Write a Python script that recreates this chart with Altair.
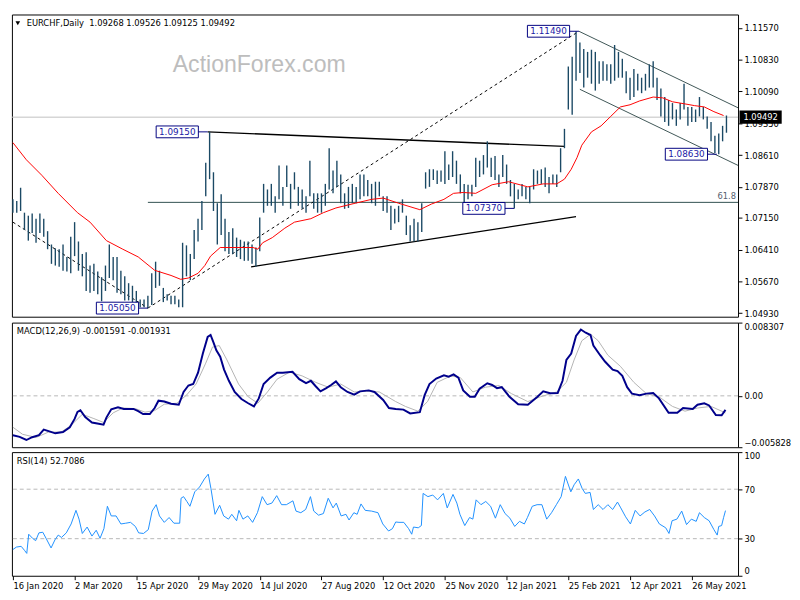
import json
import altair as alt
import pandas as pd

FONT = "DejaVu Sans"
W = 740
H_MAIN, H_MACD, H_RSI = 308, 127, 126
T_MIN, T_MAX = -0.5, 376

# ---------------- data ----------------
date_labels = ["16 Jan 2020", "2 Mar 2020", "15 Apr 2020", "29 May 2020", "14 Jul 2020",
               "27 Aug 2020", "12 Oct 2020", "25 Nov 2020", "12 Jan 2021", "25 Feb 2021",
               "12 Apr 2021", "26 May 2021"]
label_every = 32
label_t = [i * label_every for i in range(len(date_labels))]

price_ticks = [1.04930, 1.05670, 1.06410, 1.07150, 1.07870, 1.08610, 1.09350, 1.10090, 1.10830, 1.11570]
price_domain = [1.0485, 1.1188]
last_price = 1.09492
ohlc_title = "EURCHF,Daily\u00a0 1.09268 1.09526 1.09125 1.09492"
watermark = "ActionForex.com"
fib_level = 1.0751
fib_start_t = 70
fib_text = "61.8"

highs = [1.0758, 1.0754, 1.0785, 1.0727, 1.0720, 1.0725, 1.0713, 1.0725, 1.0713, 1.0684,
         1.0653, 1.0644, 1.0642, 1.0653, 1.0624, 1.0671, 1.0705, 1.0660, 1.0631, 1.0635,
         1.0604, 1.0608, 1.0590, 1.0577, 1.0604, 1.0653, 1.0624, 1.0624, 1.0592, 1.0579,
         1.0563, 1.0557, 1.0545, 1.0525, 1.0525, 1.0534, 1.0586, 1.0613, 1.0592, 1.0552,
         1.0537, 1.0534, 1.0534, 1.0525, 1.0657, 1.0651, 1.0631, 1.0687, 1.0713, 1.0754,
         1.0843, 1.0915, 1.0821, 1.0749, 1.0770, 1.0713, 1.0682, 1.0691, 1.0669, 1.0664,
         1.0660, 1.0660, 1.0653, 1.0646, 1.0716, 1.0794, 1.0781, 1.0794, 1.0765, 1.0837,
         1.0787, 1.0837, 1.0794, 1.0821, 1.0787, 1.0781, 1.0765, 1.0848, 1.0772, 1.0772,
         1.0772, 1.0794, 1.0877, 1.0825, 1.0848, 1.0816, 1.0772, 1.0787, 1.0794, 1.0787,
         1.0816, 1.0816, 1.0803, 1.0794, 1.0799, 1.0799, 1.0765, 1.0765, 1.0743, 1.0736,
         1.0743, 1.0758, 1.0720, 1.0698, 1.0713, 1.0705, 1.0749, 1.0821, 1.0828, 1.0828,
         1.0825, 1.0825, 1.0870, 1.0839, 1.0870, 1.0848, 1.0816, 1.0794, 1.0792, 1.0792,
         1.0855, 1.0848, 1.0861, 1.0893, 1.0855, 1.0859, 1.0816, 1.0861, 1.0839, 1.0803,
         1.0794, 1.0781, 1.0794, 1.0787, 1.0787, 1.0828, 1.0825, 1.0828, 1.0832, 1.0810,
         1.0816, 1.0816, 1.0877, 1.0922, 1.1067, 1.1090, 1.1149, 1.1123, 1.1108, 1.1101,
         1.1106, 1.1101, 1.1079, 1.1079, 1.1072, 1.1072, 1.1117, 1.1101, 1.1085, 1.1056,
         1.1041, 1.1061, 1.1050, 1.1041, 1.1050, 1.1072, 1.1079, 1.1041, 1.1016, 1.0996,
         1.0989, 1.0982, 1.0967, 1.0982, 1.1027, 1.0973, 1.0973, 1.0967, 1.0996, 1.0973,
         1.0951, 1.0938, 1.0906, 1.0911, 1.0929, 1.0953]
lows = [1.0727, 1.0727, 1.0731, 1.0687, 1.0662, 1.0680, 1.0657, 1.0680, 1.0671, 1.0642,
        1.0608, 1.0604, 1.0601, 1.0592, 1.0590, 1.0586, 1.0626, 1.0592, 1.0579, 1.0545,
        1.0541, 1.0545, 1.0537, 1.0521, 1.0545, 1.0575, 1.0570, 1.0541, 1.0537, 1.0523,
        1.0523, 1.0519, 1.0512, 1.0507, 1.0507, 1.0505, 1.0512, 1.0552, 1.0557, 1.0519,
        1.0523, 1.0514, 1.0514, 1.0507, 1.0507, 1.0579, 1.0570, 1.0619, 1.0660, 1.0687,
        1.0765, 1.0805, 1.0731, 1.0653, 1.0675, 1.0637, 1.0631, 1.0631, 1.0624, 1.0619,
        1.0615, 1.0615, 1.0608, 1.0601, 1.0637, 1.0727, 1.0743, 1.0743, 1.0727, 1.0758,
        1.0743, 1.0787, 1.0736, 1.0781, 1.0743, 1.0736, 1.0727, 1.0765, 1.0736, 1.0727,
        1.0727, 1.0743, 1.0781, 1.0772, 1.0787, 1.0749, 1.0736, 1.0738, 1.0749, 1.0749,
        1.0758, 1.0765, 1.0765, 1.0749, 1.0743, 1.0765, 1.0731, 1.0727, 1.0687, 1.0702,
        1.0705, 1.0727, 1.0675, 1.0660, 1.0660, 1.0660, 1.0682, 1.0783, 1.0787, 1.0803,
        1.0794, 1.0799, 1.0794, 1.0803, 1.0810, 1.0794, 1.0772, 1.0743, 1.0758, 1.0765,
        1.0787, 1.0810, 1.0816, 1.0832, 1.0810, 1.0803, 1.0787, 1.0810, 1.0794, 1.0765,
        1.0737, 1.0758, 1.0765, 1.0758, 1.0749, 1.0781, 1.0794, 1.0794, 1.0787, 1.0772,
        1.0794, 1.0787, 1.0821, 1.0877, 1.0967, 1.0955, 1.1034, 1.1052, 1.1018, 1.1041,
        1.1027, 1.1011, 1.1027, 1.1034, 1.1034, 1.1027, 1.1034, 1.1041, 1.1041, 1.1005,
        1.0989, 1.0996, 1.1011, 1.1005, 1.1011, 1.1018, 1.1018, 1.0989, 1.0951, 1.0938,
        1.0929, 1.0944, 1.0929, 1.0944, 1.0967, 1.0929, 1.0938, 1.0938, 1.0951, 1.0944,
        1.0922, 1.0893, 1.0866, 1.0863, 1.0893, 1.0913]
bar_t = list(range(0, 2 * len(highs), 2))

ma_t = [0, 7, 15, 23.5, 33.5, 40, 48.5, 57, 65, 73.5, 82, 87, 91, 96, 99.5, 102.5, 107.5, 116, 124.5, 127,
        129.5, 134.5, 141, 146, 154.5, 161, 167.5, 177.5, 186, 192, 200, 211, 217, 223.5, 228.5, 233.5,
        240, 248.5, 257, 267, 275, 282, 286, 289.5, 292.5, 295, 300, 305, 310, 315, 320, 325, 332, 337,
        342, 348.5, 353.5, 358.5, 363.5, 368.5]
ma_v = [1.0890, 1.0850, 1.0814, 1.0772, 1.0727, 1.0705, 1.0662, 1.0642, 1.0624, 1.0593, 1.0581, 1.0572,
        1.0575, 1.0586, 1.0604, 1.0626, 1.0646, 1.0646, 1.0646, 1.0642, 1.0657, 1.0669, 1.0691, 1.0705,
        1.0713, 1.0727, 1.0738, 1.0749, 1.0758, 1.0761, 1.0749, 1.0734, 1.0747, 1.0758, 1.0772, 1.0774,
        1.0772, 1.0792, 1.0799, 1.0787, 1.0794, 1.0794, 1.0805, 1.0828, 1.0855, 1.0884, 1.0915, 1.0929,
        1.0951, 1.0973, 1.0978, 1.0987, 1.0996, 1.0994, 1.0985, 1.0980, 1.0976, 1.0973, 1.0962, 1.0953]

dash_seg = ["a", "a", "b", "b"]
dash_t = [0, 70, 70, 293.5]
dash_p = [1.0705, 1.0505, 1.0505, 1.1149]
solid_seg = ["c", "c", "d", "d"]
solid_t = [101, 286, 123.5, 292]
solid_p = [1.0915, 1.0881, 1.0601, 1.0718]
chan_seg = ["e", "e", "f", "f"]
chan_t = [293.5, 376, 294, 376]
chan_p = [1.1149, 1.0971, 1.1014, 1.0837]

ann_text = ["1.09150", "1.05050", "1.11490", "1.07370", "1.08630"]
ann_t = [101, 70, 293.5, 260, 365]
ann_p = [1.0915, 1.0505, 1.1149, 1.0737, 1.0863]

macd_title = "MACD(12,26,9) -0.001591 -0.001931"
macd_domain = [-0.005828, 0.008307]
macd_t = [0, 3.5, 7, 10, 13.5, 16, 18.5, 22, 26, 29.5, 32, 33.5, 35, 37.5, 41, 44.5, 47, 48.5, 51, 54.5,
          57.5, 62.5, 65, 67.5, 71, 73.5, 75.5, 78.5, 82, 86, 88.5, 91, 93.5, 96, 98.5, 101, 102.5, 104,
          105.5, 107.5, 109.5, 112, 115, 118.5, 122, 125, 127.5, 130, 133.5, 137, 140, 145, 148.5, 152,
          154.5, 157, 159.5, 162.5, 165, 167.5, 170, 173.5, 177, 180, 184.5, 187.5, 192, 195, 198.5,
          202.5, 206, 211, 213.5, 216, 219.5, 223.5, 226, 228.5, 231, 233.5, 237, 239.5, 242, 246,
          248.5, 251, 253.5, 257.5, 262, 267, 272, 275, 278.5, 282.5, 285, 287, 289.5, 292, 294.5, 297,
          299.5, 301, 304.5, 307, 311, 313.5, 316, 318.5, 321, 325, 328.5, 332, 335, 340, 344.5, 347.5,
          352.5, 355, 358.5, 361, 364.5, 367.5, 369.5]
macd_v = [-0.00447, -0.00465, -0.00501, -0.00469, -0.00447, -0.00382, -0.00400, -0.00425, -0.00411,
          -0.00356, -0.00262, -0.00182, -0.00164, -0.00240, -0.00302, -0.00316, -0.00327, -0.00247,
          -0.00153, -0.00131, -0.00149, -0.00149, -0.00174, -0.00207, -0.00207, -0.00138, -0.00055,
          -0.00065, -0.00090, -0.00101, 0.00044, 0.00117, 0.00134, 0.00262, 0.00480, 0.00668, 0.00690,
          0.00607, 0.00516, 0.00444, 0.00298, 0.00171, 0.00044, -0.00036, -0.00084, -0.00120, -0.00029,
          0.00134, 0.00207, 0.00262, 0.00262, 0.00273, 0.00189, 0.00145, 0.00171, 0.00109, 0.00051,
          0.00087, 0.00123, 0.00164, 0.00098, 0.00044, 0.00014, 0.00051, 0.00062, 0.00044, -0.00047,
          -0.00138, -0.00149, -0.00156, -0.00199, -0.00185, 0.00008, 0.00134, 0.00196, 0.00232, 0.00218,
          0.00243, 0.00207, 0.00062, -0.00011, -0.00011, 0.00080, 0.00142, 0.00123, 0.00087, 0.00098,
          -0.00011, -0.00095, -0.00101, -0.00011, 0.00051, 0.00029, 0.00033, 0.00171, 0.00407, 0.00480,
          0.00679, 0.00752, 0.00716, 0.00690, 0.00570, 0.00461, 0.00389, 0.00298, 0.00280, 0.00226,
          0.00098, 0.00025, 0.00008, 0.00025, 0.00033, -0.00029, -0.00193, -0.00193, -0.00138, -0.00149,
          -0.00101, -0.00084, -0.00109, -0.00218, -0.00221, -0.00159]
sig_t = [0, 5, 12, 18.5, 25, 30, 36, 42, 47, 52, 57, 63.5, 68.5, 73.5, 78.5, 85, 90, 95, 100, 103.5,
         107, 111, 117, 122, 127, 132, 137, 143.5, 150, 157, 163.5, 170, 177, 183.5, 190, 198.5, 203.5,
         210, 215, 220, 227, 232, 238.5, 245, 252, 258.5, 267, 273.5, 282, 287, 291, 295, 299.5, 303.5,
         308.5, 315, 322, 328.5, 335, 342, 348.5, 355, 362, 369.5]
sig_v = [-0.00356, -0.00436, -0.00472, -0.00411, -0.00411, -0.00338, -0.00210, -0.00258, -0.00302,
         -0.00193, -0.00138, -0.00145, -0.00185, -0.00167, -0.00095, -0.00084, 0.00008, 0.00134, 0.00371,
         0.00553, 0.00570, 0.00407, 0.00134, -0.00011, -0.00084, 0.00044, 0.00189, 0.00269, 0.00226,
         0.00153, 0.00098, 0.00134, 0.00044, 0.00051, 0.00044, -0.00065, -0.00120, -0.00174, -0.00065,
         0.00153, 0.00226, 0.00207, 0.00044, 0.00098, 0.00117, 0.00025, -0.00065, -0.00011, 0.00044,
         0.00153, 0.00407, 0.00625, 0.00698, 0.00625, 0.00461, 0.00335, 0.00153, 0.00025, -0.00011,
         -0.00120, -0.00174, -0.00138, -0.00120, -0.00193]

rsi_title = "RSI(14) 52.7086"
rsi_levels = [30, 70]
rsi_ticks = [0, 30, 70, 100]
rsi_t = [0, 1.8, 4.3, 6, 7.2, 8.2, 10.2, 11.8, 13.5, 15.5,
         17.2, 19.8, 21.8, 23.5, 25.2, 27.7, 30.2, 32.7, 34.3, 36,
         38.5, 41, 43.2, 45.2, 47.2, 49, 51, 53.5, 56, 58.5,
         61, 63.5, 65.2, 67.7, 70.2, 72.2, 74.3, 76, 78.5, 81,
         83.5, 86.5, 87.2, 88.5, 90.2, 91.8, 94.3, 96.8, 99.3, 101.3,
         102.7, 104.8, 107.2, 109.3, 111.8, 113.5, 116, 117.2, 119.3, 121.8,
         124.3, 126.8, 129.3, 131.8, 134.3, 136.8, 139.3, 141.8, 145.2, 146.8,
         149.3, 151.8, 154.3, 156, 158.5, 161, 163.5, 166, 167.7, 170.2,
         172.7, 174.3, 176.8, 178.5, 180.5, 182.7, 186, 189.3, 191.8, 194.8,
         196.8, 198.5, 200.2, 202.7, 205.2, 206.8, 207.7, 210.2, 211.8, 212.7,
         215.2, 217.7, 220.2, 223.2, 225.2, 228.2, 230.2, 231.8, 234.3, 236.8,
         238.5, 240.2, 242.7, 245.2, 247.7, 250.2, 252.7, 255.2, 257.7, 260.2,
         262.7, 265.2, 266.8, 269.3, 271.8, 274.3, 276.8, 279.3, 281.8, 284.3,
         286.5, 289.3, 291, 293.2, 295.2, 296.8, 299.3, 301, 303.5, 306,
         308.5, 311, 313.5, 315.2, 317.7, 320.2, 322.7, 325.2, 327.7, 330.2,
         332.7, 335.2, 338.5, 340.2, 341.8, 344.3, 346.8, 349.3, 351.8, 354.3,
         356, 358.5, 361, 363.5, 365.2, 366, 367.5, 368.5, 369.5]
rsi_v = [21.2, 23.2, 23.8, 20.6, 18.1, 33.6, 30.3, 28.4, 34.7, 35.2,
         30.3, 22.5, 29.0, 32.9, 31.0, 34.7, 41.9, 52.9, 45.8, 34.2,
         39.4, 32.1, 36.8, 30.3, 38.1, 56.2, 48.4, 48.4, 41.9, 42.5,
         43.2, 39.9, 34.7, 34.2, 37.3, 52.3, 57.5, 48.4, 43.2, 47.1,
         42.5, 42.5, 62.7, 64.0, 60.1, 56.2, 67.9, 71.8, 78.3, 82.2,
         70.5, 49.7, 57.0, 48.4, 45.8, 49.7, 44.5, 52.9, 45.8, 48.4,
         43.2, 51.0, 64.0, 57.5, 58.8, 64.8, 57.5, 57.5, 60.6, 52.3,
         51.0, 53.6, 64.0, 52.3, 49.0, 50.3, 62.7, 54.9, 58.8, 48.4,
         49.7, 45.1, 51.0, 49.7, 58.1, 52.9, 52.3, 51.0, 41.9, 36.2,
         38.1, 43.5, 43.2, 43.2, 38.1, 33.6, 39.4, 38.8, 40.6, 66.6,
         64.0, 65.3, 61.4, 66.6, 54.9, 65.8, 58.8, 49.7, 40.6, 47.1,
         45.8, 61.4, 57.5, 60.1, 56.2, 46.6, 57.5, 50.3, 46.6, 39.9,
         44.0, 41.9, 47.1, 56.2, 57.5, 57.5, 45.8, 51.0, 57.5, 64.0,
         80.4, 67.9, 73.6, 78.3, 70.5, 66.6, 67.4, 53.6, 57.5, 53.6,
         57.5, 53.6, 59.6, 54.9, 47.7, 41.9, 52.9, 48.4, 51.6, 53.6,
         48.4, 41.9, 38.8, 34.2, 44.5, 45.8, 52.3, 41.4, 45.8, 44.0,
         51.0, 47.1, 44.5, 37.3, 32.9, 39.9, 40.6, 47.0, 52.7]

# ---------------- styles ----------------
BAR_COLOR = "#1b4965"
NAVY = "#000080"
BOX_PATH = "M-1,-0.28L1,-0.28L1,0.28L-1,0.28Z"
x_scale = alt.Scale(domain=[T_MIN, T_MAX], nice=False, zero=False)


def axis_right(**kw):
    base = dict(orient="right", title=None, grid=False, domain=False, tickSize=4, tickColor="black",
                labelColor="black", labelFont=FONT, labelFontSize=8.5, labelPadding=2, zindex=0)
    base.update(kw)
    return alt.Axis(**base)


main_axis = axis_right(values=price_ticks, format=".5f")
x_bottom_axis = alt.Axis(orient="bottom", values=label_t, title=None, grid=False, domain=False,
                         tickSize=4, tickColor="black", labelColor="black", labelFont=FONT,
                         labelFontSize=8.5, labelAlign="left", labelPadding=2, labelFlush=False,
                         labelOverlap=False,
                         labelExpr=json.dumps(date_labels) + f"[round(datum.value / {label_every})]")


def xq(field, axis=None):
    return alt.X(f"{field}:Q", scale=x_scale, axis=axis)


def yp(field):
    return alt.Y(f"{field}:Q", scale=alt.Scale(domain=price_domain, nice=False, zero=False), axis=main_axis)


# ---------------- main panel ----------------
bars_df = pd.DataFrame({"t": bar_t, "high": highs, "low": lows})
ma_df = pd.DataFrame({"t": ma_t, "p": ma_v})
dash_df = pd.DataFrame({"seg": dash_seg, "t": dash_t, "p": dash_p})
solid_df = pd.DataFrame({"seg": solid_seg, "t": solid_t, "p": solid_p})
chan_df = pd.DataFrame({"seg": chan_seg, "t": chan_t, "p": chan_p})
ann_df = pd.DataFrame({"label": ann_text, "t": ann_t, "p": ann_p})
last_df = pd.DataFrame({"t": [T_MAX], "p": [last_price], "label": [f"{last_price:.5f}"]})
fib_df = pd.DataFrame({"t0": [fib_start_t], "t1": [T_MAX], "p": [fib_level], "txt": [fib_text]})

current_line = alt.Chart(last_df).mark_rule(color="#c0c0c0", strokeWidth=1).encode(y=yp("p"))
fib_line = alt.Chart(fib_df).mark_rule(color="#2f4f4f", strokeWidth=1).encode(
    x=xq("t0"), x2="t1:Q", y=yp("p"))
fib_label = alt.Chart(fib_df).mark_text(align="right", baseline="bottom", dx=-2, dy=-1, font=FONT,
                                        fontSize=8.5, color="#556070").encode(
    x=xq("t1"), y=yp("p"), text="txt:N")
dash_lines = alt.Chart(dash_df).mark_line(color="black", strokeDash=[3, 3], strokeWidth=1, clip=True).encode(
    x=xq("t"), y=yp("p"), detail="seg:N")
solid_lines = alt.Chart(solid_df).mark_line(color="black", strokeWidth=1.3, clip=True).encode(
    x=xq("t"), y=yp("p"), detail="seg:N")
chan_lines = alt.Chart(chan_df).mark_line(color="#3d5555", strokeWidth=1, clip=True).encode(
    x=xq("t"), y=yp("p"), detail="seg:N")
bars = alt.Chart(bars_df).mark_rule(color=BAR_COLOR, strokeWidth=1.4).encode(
    x=xq("t"), y=yp("low"), y2="high:Q")
ma_line = alt.Chart(ma_df).mark_line(color="#ff0000", strokeWidth=1).encode(x=xq("t"), y=yp("p"))
ann_conn = alt.Chart(ann_df).mark_rule(color=NAVY, strokeWidth=1, xOffset=-10).encode(
    x=xq("t"), x2="t:Q", y=yp("p"))
ann_box = alt.Chart(ann_df).mark_point(shape=BOX_PATH, size=1849, filled=True, fill="white", stroke=NAVY,
                                       strokeWidth=1, opacity=1, xOffset=-31).encode(x=xq("t"), y=yp("p"))
ann_txt = alt.Chart(ann_df).mark_text(xOffset=-31, font=FONT, fontSize=9, color="#1a1aa6").encode(
    x=xq("t"), y=yp("p"), text="label:N")
last_box = alt.Chart(last_df).mark_point(shape=BOX_PATH, size=1681, filled=True, fill="black", stroke="black",
                                         opacity=1, xOffset=23).encode(x=xq("t"), y=yp("p"))
last_txt = alt.Chart(last_df).mark_text(xOffset=23, font=FONT, fontSize=8.5, color="white").encode(
    x=xq("t"), y=yp("p"), text="label:N")
title_df = pd.DataFrame({"txt": [ohlc_title]})
title_tri = alt.Chart(title_df).mark_point(shape="triangle-down", filled=True, color="black", size=22,
                                           opacity=1).encode(x=alt.value(6), y=alt.value(9))
title_txt = alt.Chart(title_df).mark_text(align="left", baseline="middle", font=FONT, fontSize=8.5,
                                          color="black").encode(x=alt.value(15), y=alt.value(9), text="txt:N")
wm = alt.Chart(pd.DataFrame({"txt": [watermark]})).mark_text(font="Liberation Sans", fontSize=23.5,
                                                             color="#bdbdbd").encode(
    x=alt.value(252), y=alt.value(52), text="txt:N")

main = alt.layer(wm, current_line, fib_line, fib_label, dash_lines, solid_lines, chan_lines, bars, ma_line,
                 ann_conn, ann_box, ann_txt, last_box, last_txt, title_tri, title_txt).properties(
    width=W, height=H_MAIN)

# ---------------- MACD panel ----------------
macd_axis = axis_right(values=[macd_domain[0], 0, macd_domain[1]], labelFlush=True,
                       labelExpr="datum.value == 0 ? '0.00' : format(datum.value, '.6f')")


def ym(field):
    return alt.Y(f"{field}:Q", scale=alt.Scale(domain=macd_domain, nice=False, zero=False), axis=macd_axis)


macd_df = pd.DataFrame({"t": macd_t, "v": macd_v})
sig_df = pd.DataFrame({"t": sig_t, "v": sig_v})
zero_line = alt.Chart(pd.DataFrame({"v": [0]})).mark_rule(color="#b8b8b8", strokeDash=[4, 3]).encode(y=ym("v"))
sig_line = alt.Chart(sig_df).mark_line(color="#b4b4b4", strokeWidth=1).encode(x=xq("t"), y=ym("v"))
macd_line = alt.Chart(macd_df).mark_line(color="#00008b", strokeWidth=2).encode(x=xq("t"), y=ym("v"))
macd_lbl = alt.Chart(pd.DataFrame({"txt": [macd_title]})).mark_text(
    align="left", baseline="middle", font=FONT, fontSize=8.5, color="black").encode(
    x=alt.value(5), y=alt.value(9), text="txt:N")
macd = alt.layer(zero_line, sig_line, macd_line, macd_lbl).properties(width=W, height=H_MACD)

# ---------------- RSI panel ----------------
rsi_axis = axis_right(values=rsi_ticks, labelFlush=True)


def yr(field):
    return alt.Y(f"{field}:Q", scale=alt.Scale(domain=[0, 100], nice=False), axis=rsi_axis)


rsi_df = pd.DataFrame({"t": rsi_t, "v": rsi_v})
rsi_lv = alt.Chart(pd.DataFrame({"v": rsi_levels})).mark_rule(color="#b8b8b8", strokeDash=[4, 3]).encode(
    y=yr("v"))
rsi_line = alt.Chart(rsi_df).mark_line(color="#1e90ff", strokeWidth=1).encode(
    x=xq("t", x_bottom_axis), y=yr("v"))
rsi_lbl = alt.Chart(pd.DataFrame({"txt": [rsi_title]})).mark_text(
    align="left", baseline="middle", font=FONT, fontSize=8.5, color="black").encode(
    x=alt.value(5), y=alt.value(9), text="txt:N")
rsi = alt.layer(rsi_lv, rsi_line, rsi_lbl).properties(width=W, height=H_RSI)

chart = alt.vconcat(main, macd, rsi, spacing=3).properties(padding=0, background="white").configure_view(
    stroke="black", strokeWidth=1)

chart.save("out.html", embed_options={"renderer": "svg", "actions": False})
